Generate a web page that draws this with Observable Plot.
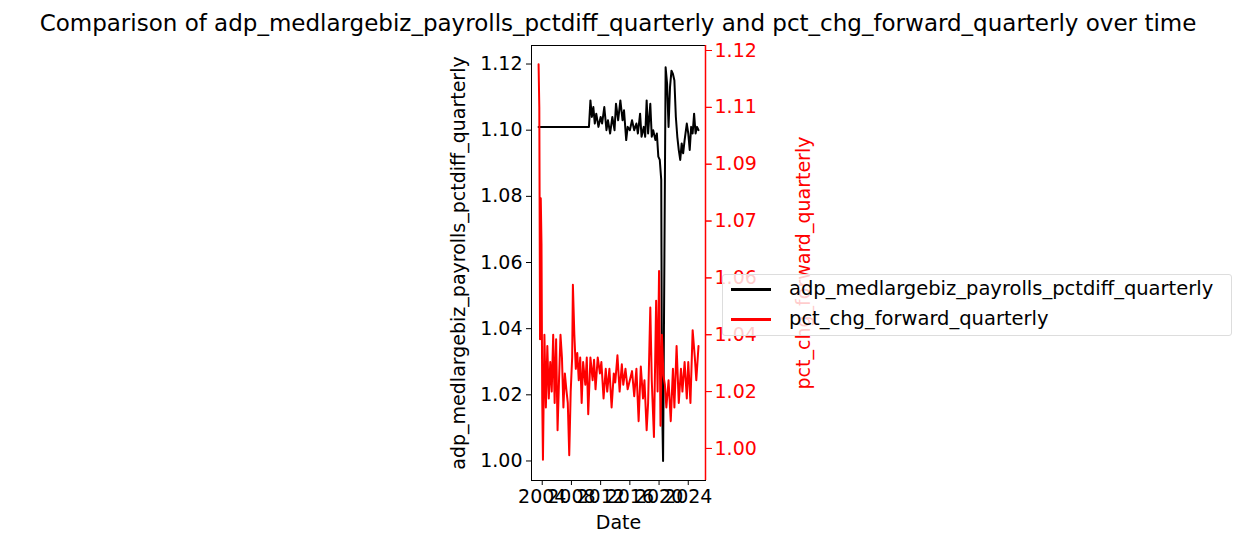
<!DOCTYPE html>
<html><head><meta charset="utf-8">
<script src="https://cdn.jsdelivr.net/npm/d3@7"></script>
<script src="https://cdn.jsdelivr.net/npm/@observablehq/plot@0.6"></script>
<style>
body{margin:0;font-family:"DejaVu Sans",sans-serif;background:#fff;position:relative;width:1248px;height:554px;overflow:hidden}
#title{position:absolute;top:10px;left:0;width:1236px;text-align:center;font-size:23px;white-space:nowrap}
#chart{position:absolute;top:40px;left:0}
#legend{position:absolute;left:722px;top:274px;width:510px;height:62px;font-size:19.5px;background:rgba(255,255,255,0.8);border:1px solid #ddd;border-radius:3px;box-sizing:border-box}
#legend div{position:absolute;left:8px;white-space:nowrap}
#legend span{display:inline-block;width:40px;height:2.5px;vertical-align:middle;margin-right:18px}
</style></head><body>
<div id="title">Comparison of adp_medlargebiz_payrolls_pctdiff_quarterly and pct_chg_forward_quarterly over time</div>
<div id="chart"></div>
<div id="legend">
<div style="top:2px"><span style="background:black"></span>adp_medlargebiz_payrolls_pctdiff_quarterly</div>
<div style="top:32px"><span style="background:red"></span>pct_chg_forward_quarterly</div>
</div>
<script>
// decimal years and values
const blackYears = [2003.5,2010.4,2010.6,2010.8,2011.0,2011.2,2011.4,2011.7,2012.0,2012.2,2012.5,2012.8,2013.0,2013.3,2013.6,2013.9,2014.1,2014.4,2014.7,2015.0,2015.2,2015.5,2015.7,2016.0,2016.3,2016.6,2016.9,2017.1,2017.4,2017.6,2017.9,2018.1,2018.3,2018.5,2018.8,2019.0,2019.2,2019.5,2019.7,2019.9,2020.1,2020.3,2020.4,2020.55,2020.7,2020.9,2021.1,2021.3,2021.5,2021.7,2021.9,2022.1,2022.3,2022.5,2022.7,2022.9,2023.1,2023.3,2023.5,2023.8,2024.0,2024.2,2024.4,2024.6,2024.8,2025.0,2025.2,2025.4]
const blackVals = [1.101,1.101,1.109,1.104,1.107,1.102,1.105,1.101,1.104,1.102,1.107,1.100,1.103,1.099,1.104,1.100,1.108,1.103,1.109,1.103,1.106,1.097,1.101,1.100,1.103,1.100,1.102,1.099,1.105,1.098,1.101,1.098,1.109,1.099,1.108,1.098,1.100,1.097,1.099,1.092,1.091,1.085,1.020,1.000,1.050,1.119,1.114,1.101,1.113,1.118,1.117,1.115,1.104,1.098,1.094,1.091,1.096,1.093,1.097,1.102,1.099,1.094,1.101,1.099,1.105,1.099,1.101,1.100]
const redYears = [2003.5,2003.6,2003.7,2003.8,2003.9,2004.0,2004.1,2004.3,2004.5,2004.7,2004.9,2005.1,2005.3,2005.5,2005.7,2005.9,2006.1,2006.3,2006.5,2006.7,2006.9,2007.1,2007.3,2007.5,2007.7,2007.9,2008.1,2008.2,2008.4,2008.6,2008.8,2009.0,2009.2,2009.4,2009.6,2009.9,2010.1,2010.3,2010.6,2010.9,2011.1,2011.3,2011.6,2011.9,2012.1,2012.4,2012.7,2012.9,2013.2,2013.5,2013.8,2014.0,2014.3,2014.6,2014.9,2015.1,2015.4,2015.7,2016.0,2016.3,2016.6,2016.9,2017.2,2017.5,2017.8,2018.0,2018.3,2018.5,2018.8,2019.0,2019.3,2019.6,2019.8,2020.0,2020.2,2020.4,2020.6,2020.8,2021.0,2021.3,2021.6,2021.9,2022.1,2022.4,2022.7,2023.0,2023.2,2023.5,2023.8,2024.0,2024.3,2024.6,2024.9,2025.1,2025.4]
const redVals = [1.4419,1.4400,1.4298,1.4360,1.4340,1.4272,1.4245,1.4300,1.4268,1.4295,1.4272,1.4288,1.4275,1.4300,1.4270,1.4298,1.4258,1.4280,1.4300,1.4290,1.4268,1.4283,1.4276,1.4270,1.4247,1.4275,1.4290,1.4322,1.4300,1.4285,1.4292,1.4280,1.4290,1.4270,1.4288,1.4278,1.4290,1.4265,1.4290,1.4280,1.4289,1.4276,1.4290,1.4283,1.4288,1.4272,1.4285,1.4275,1.4285,1.4268,1.4283,1.4279,1.4291,1.4275,1.4287,1.4278,1.4285,1.4276,1.4280,1.4284,1.4273,1.4285,1.4262,1.4286,1.4272,1.4280,1.4258,1.4270,1.4312,1.4280,1.4255,1.4315,1.4275,1.4328,1.4260,1.4300,1.4282,1.4278,1.4268,1.4280,1.4262,1.4285,1.4268,1.4295,1.4270,1.4285,1.4275,1.4288,1.4272,1.4288,1.4270,1.4302,1.4290,1.4280,1.4295]
const leftTicks = [1.00,1.02,1.04,1.06,1.08,1.10,1.12]
const rightTicks = [1.4250,1.4275,1.4300,1.4325,1.4350,1.4375,1.4400,1.4425]
const yearTicks = [2004,2008,2012,2016,2020,2024]

const toDate = y => new Date(Date.UTC(Math.floor(y),0,1) + (y - Math.floor(y)) * 365.25 * 864e5)
const L = [0.9941, 1.1256], R = [1.42359, 1.44272]
const r2l = r => L[0] + (r - R[0]) / (R[1] - R[0]) * (L[1] - L[0])
const l2r = l => R[0] + (l - L[0]) / (L[1] - L[0]) * (R[1] - R[0])

const black = blackYears.map((y, i) => ({date: toDate(y), v: blackVals[i]}))
const red = redYears.map((y, i) => ({date: toDate(y), v: r2l(redVals[i])}))

const chart = Plot.plot({
  width: 1248, height: 514,
  marginLeft: 531, marginRight: 543, marginTop: 5, marginBottom: 74,
  style: {fontFamily: "DejaVu Sans", fontSize: "19px", color: "black"},
  x: {type: "utc", domain: [toDate(2002.53), toDate(2026.36)]},
  y: {domain: L},
  marks: [
    Plot.axisX(yearTicks.map(toDate), {tickFormat: d => String(d.getUTCFullYear()), tickSize: 5, tickPadding: 4, label: "Date", labelAnchor: "center", labelArrow: "none", labelOffset: 48, fontSize: 19}),
    Plot.axisY(leftTicks, {anchor: "left", tickFormat: d3.format(".2f"), tickSize: 5, label: "adp_medlargebiz_payrolls_pctdiff_quarterly", labelAnchor: "center", labelArrow: "none", labelOffset: 80, fontSize: 19}),
    Plot.axisY(rightTicks.map(r2l), {anchor: "right", tickFormat: d => d3.format(".4f")(l2r(d)), tickSize: 5, stroke: "red", fill: "black", text: null, label: null, fontSize: 19}),
    Plot.axisY(rightTicks.map(r2l), {anchor: "right", ticks: [], label: "pct_chg_forward_quarterly", labelAnchor: "center", labelArrow: "none", labelOffset: 104, color: "red", fontSize: 19}),
    Plot.line(black, {x: "date", y: "v", stroke: "black", strokeWidth: 2}),
    Plot.line(red, {x: "date", y: "v", stroke: "red", strokeWidth: 2}),
    Plot.frame({stroke: "black"}),
    Plot.ruleX([toDate(2026.36)], {stroke: "red", strokeWidth: 1.5})
  ]
})
document.getElementById("chart").append(chart)
</script></body></html>
